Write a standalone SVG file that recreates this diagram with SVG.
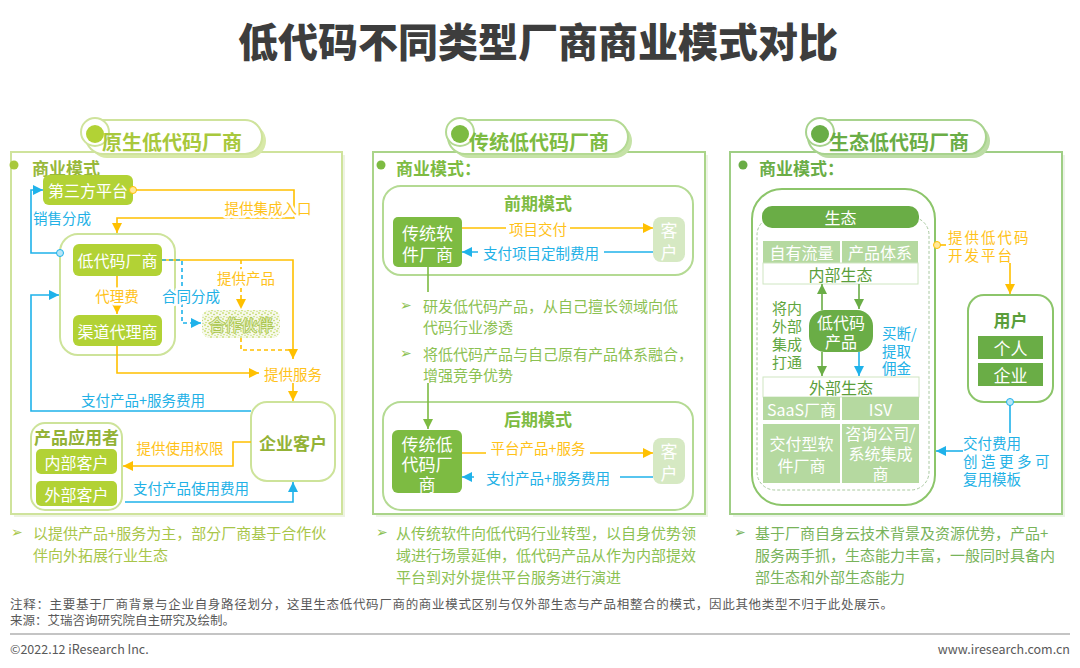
<svg xmlns="http://www.w3.org/2000/svg" width="1080" height="668" viewBox="0 0 1080 668">
<style>
text{font-family:"Noto Sans CJK SC","Noto Sans",sans-serif;dominant-baseline:central}
.title{font-size:40px;font-weight:900;fill:#3d3d3d}
.tab{font-size:20px;font-weight:bold}
.hd{font-size:17px;font-weight:bold}
.nt{font-size:16px;fill:#fff}
.lb{font-size:14.5px}
.y{fill:#ffc21a}
.b{fill:#23b1e6}
.bul{font-size:15px}
.ln{fill:none;stroke-width:1.6}
.ly{stroke:#ffc000}
.lbl{stroke:#1fb2ea}
.lg{stroke:#6aad46}
.halo{stroke:#fff;stroke-width:5;paint-order:stroke;stroke-linejoin:round}
.arr{font-family:"DejaVu Sans",sans-serif;font-size:14px}
.note{font-size:12.5px;fill:#595959}
</style>
<defs>
<marker id="my" viewBox="0 0 10 10" refX="10" refY="5" markerWidth="10" markerHeight="10" markerUnits="userSpaceOnUse" orient="auto"><path d="M0,0 L10,5 L0,10 z" fill="#ffc000"/></marker>
<marker id="mb" viewBox="0 0 10 10" refX="10" refY="5" markerWidth="10" markerHeight="10" markerUnits="userSpaceOnUse" orient="auto"><path d="M0,0 L10,5 L0,10 z" fill="#1fb2ea"/></marker>
<marker id="mg" viewBox="0 0 10 10" refX="10" refY="5" markerWidth="10" markerHeight="10" markerUnits="userSpaceOnUse" orient="auto"><path d="M0,0 L10,5 L0,10 z" fill="#6aad46"/></marker>
<marker id="mg2" viewBox="0 0 10 10" refX="10" refY="5" markerWidth="10" markerHeight="10" markerUnits="userSpaceOnUse" orient="auto"><path d="M0,0 L10,5 L0,10 z" fill="#7dbb42"/></marker>
<pattern id="dots" width="6" height="6" patternUnits="userSpaceOnUse">
<rect width="6" height="6" fill="#f6f9ea"/>
<circle cx="1" cy="1" r="0.8" fill="#b5d334"/>
<circle cx="4" cy="2.5" r="0.7" fill="#a9c83a"/>
<circle cx="2" cy="4.6" r="0.7" fill="#b5d334"/>
<circle cx="5" cy="5.2" r="0.5" fill="#9fbf35"/>
</pattern>
</defs>
<rect width="1080" height="668" fill="#fff"/>
<text class="title" x="538" y="40" text-anchor="middle">低代码不同类型厂商商业模式对比</text>

<!-- panels -->
<g id="panel-left">
<rect x="14" y="155" width="331" height="362" fill="#eef3e2"/>
<rect x="11" y="152" width="331" height="362" fill="#fff" stroke="#cfe39c" stroke-width="2"/>
<rect x="90" y="124" width="176" height="34" rx="17" fill="#d8e9a8"/>
<rect x="86" y="120" width="176" height="34" rx="17" fill="#fff" stroke="#cfe39c" stroke-width="2"/>
<circle cx="95" cy="132" r="14" fill="#fff" stroke="#cfe39c" stroke-width="2"/>
<circle cx="95" cy="134" r="9" fill="#b2d235"/>
<text class="tab" x="172" y="141" text-anchor="middle" fill="#a8c83c">原生低代码厂商</text>
<circle cx="14" cy="165" r="4.5" fill="#a8c83c"/>
<text class="hd" x="32" y="167" fill="#98b83a">商业模式</text>
</g>
<g id="panel-mid">
<rect x="376" y="155" width="332" height="362" fill="#edf4e6"/>
<rect x="373" y="152" width="332" height="362" fill="#fff" stroke="#aad489" stroke-width="2"/>
<rect x="452" y="124" width="180" height="34" rx="17" fill="#c5e2a6"/>
<rect x="448" y="120" width="180" height="34" rx="17" fill="#fff" stroke="#b4da93" stroke-width="2"/>
<circle cx="460" cy="132" r="14" fill="#fff" stroke="#b4da93" stroke-width="2"/>
<circle cx="460" cy="134" r="9" fill="#7dbb42"/>
<text class="tab" x="539" y="141" text-anchor="middle" fill="#7dbb42">传统低代码厂商</text>
<circle cx="381" cy="165" r="4.5" fill="#7dbb42"/>
<text class="hd" x="396" y="167" fill="#7dbb42">商业模式：</text>
</g>
<g id="panel-right">
<rect x="733" y="155" width="332" height="362" fill="#ecf3e8"/>
<rect x="730" y="152" width="332" height="362" fill="#fff" stroke="#9fce85" stroke-width="2"/>
<rect x="812" y="124" width="178" height="34" rx="17" fill="#bcdca5"/>
<rect x="808" y="120" width="178" height="34" rx="17" fill="#fff" stroke="#a8d38e" stroke-width="2"/>
<circle cx="820" cy="132" r="14" fill="#fff" stroke="#a8d38e" stroke-width="2"/>
<circle cx="820" cy="134" r="9" fill="#6aad46"/>
<text class="tab" x="899" y="141" text-anchor="middle" fill="#6aad46">生态低代码厂商</text>
<circle cx="743" cy="165" r="4.5" fill="#6aad46"/>
<text class="hd" x="759" y="167" fill="#6aad46">商业模式：</text>
</g>

<!-- left nodes -->
<g id="lowcode-group"><rect x="60" y="234" width="115" height="121" rx="18" fill="#fff" stroke="#cde39a" stroke-width="2"/></g>
<g id="third-party"><rect x="43" y="175" width="90" height="30" rx="6" fill="#b2d235"/><text class="nt" x="88" y="190" text-anchor="middle">第三方平台</text></g>
<g id="lowcode-vendor"><rect x="73" y="244" width="89" height="32" rx="6" fill="#b2d235"/><text class="nt" x="117.5" y="260" text-anchor="middle">低代码厂商</text></g>
<g id="channel-agent"><rect x="73" y="315" width="89" height="31" rx="6" fill="#b2d235"/><text class="nt" x="117.5" y="330.5" text-anchor="middle">渠道代理商</text></g>
<g id="partner"><rect x="202" y="310" width="78" height="28" rx="8" fill="url(#dots)"/><text x="241" y="324" text-anchor="middle" font-size="16" fill="#e4efc4" stroke="#a8c44a" stroke-width="1.6" paint-order="stroke" stroke-linejoin="round">合作伙伴</text></g>
<g id="enterprise"><rect x="251" y="402" width="84" height="79" rx="16" fill="#fff" stroke="#cde39a" stroke-width="2"/><text class="hd" x="293" y="442" text-anchor="middle" fill="#93b236">企业客户</text></g>
<g id="users-group"><rect x="31" y="423" width="91" height="87" rx="14" fill="#fff" stroke="#cde39a" stroke-width="2"/><text class="hd" x="76.5" y="436" text-anchor="middle" fill="#93b236">产品应用者</text></g>
<g id="internal-cust"><rect x="36" y="449" width="81" height="25" rx="5" fill="#b2d235"/><text class="nt" x="76.5" y="461.5" text-anchor="middle">内部客户</text></g>
<g id="external-cust"><rect x="36" y="481" width="81" height="25" rx="5" fill="#b2d235"/><text class="nt" x="76.5" y="493.5" text-anchor="middle">外部客户</text></g>

<!-- middle nodes -->
<g id="early-group"><rect x="383" y="186" width="310" height="89" rx="18" fill="#fff" stroke="#b4da93" stroke-width="2"/><text class="hd" x="538" y="202" text-anchor="middle" fill="#7dbb42">前期模式</text></g>
<g id="trad-soft"><rect x="393" y="217" width="69" height="50" rx="5" fill="#7dbb42"/><text text-anchor="middle" font-size="17" fill="#fff"><tspan x="427.5" y="232">传统软</tspan><tspan x="427.5" y="253">件厂商</tspan></text></g>
<g id="cust-early"><rect x="653" y="217" width="32" height="45" rx="8" fill="#d6e9c3"/><text text-anchor="middle" font-size="17" fill="#fff"><tspan x="669" y="229">客</tspan><tspan x="669" y="251">户</tspan></text></g>
<g id="late-group"><rect x="383" y="402" width="310" height="108" rx="18" fill="#fff" stroke="#b4da93" stroke-width="2"/><text class="hd" x="538" y="418" text-anchor="middle" fill="#7dbb42">后期模式</text></g>
<g id="trad-lowcode"><rect x="392" y="430" width="70" height="63" rx="6" fill="#7dbb42"/><text text-anchor="middle" font-size="17" fill="#fff"><tspan x="427" y="443">传统低</tspan><tspan x="427" y="463">代码厂</tspan><tspan x="427" y="483">商</tspan></text></g>
<g id="cust-late"><rect x="653" y="438" width="32" height="46" rx="8" fill="#d6e9c3"/><text text-anchor="middle" font-size="17" fill="#fff"><tspan x="669" y="450">客</tspan><tspan x="669" y="472">户</tspan></text></g>

<!-- right nodes -->
<g id="eco-group">
<rect x="752" y="189" width="183" height="316" rx="30" fill="#fff" stroke="#8cc56a" stroke-width="2"/>
<rect x="757" y="217" width="172" height="273" rx="18" fill="#fff" stroke="#a9c9a0" stroke-width="1" stroke-dasharray="3 2"/>
</g>
<g id="eco-header"><rect x="762" y="206" width="157" height="22" rx="10" fill="#6aad46"/><text class="nt" x="840.5" y="217" text-anchor="middle">生态</text></g>
<g id="own-traffic"><rect x="763" y="241" width="77" height="22" fill="#b5d9a0"/><text class="nt" x="801.5" y="252" text-anchor="middle">自有流量</text></g>
<g id="product-system"><rect x="842" y="241" width="76" height="22" fill="#b5d9a0"/><text class="nt" x="880" y="252" text-anchor="middle">产品体系</text></g>
<g id="internal-eco"><rect x="763" y="263" width="155" height="21" fill="#fff" stroke="#cfe6c2" stroke-width="1"/><text x="840.5" y="273.5" text-anchor="middle" font-size="16" fill="#5a9e3a">内部生态</text></g>
<g id="lowcode-product"><rect x="809" y="310" width="64" height="42" rx="16" fill="#6aad46"/><text class="nt" text-anchor="middle"><tspan x="841" y="322">低代码</tspan><tspan x="841" y="341">产品</tspan></text></g>
<g id="integrate-label"><text text-anchor="middle" font-size="15" fill="#5fa63e"><tspan x="787" y="307">将内</tspan><tspan x="787" y="325">外部</tspan><tspan x="787" y="343">集成</tspan><tspan x="787" y="361">打通</tspan></text></g>
<g id="external-eco"><rect x="763" y="377" width="156" height="20" fill="#fff" stroke="#cfe6c2" stroke-width="1"/><text x="841" y="387" text-anchor="middle" font-size="16" fill="#5a9e3a">外部生态</text></g>
<g id="saas"><rect x="763" y="397" width="77" height="23" fill="#b5d9a0"/><text class="nt" x="801.5" y="408.5" text-anchor="middle">SaaS厂商</text></g>
<g id="isv"><rect x="842" y="397" width="77" height="23" fill="#b5d9a0"/><text class="nt" x="880.5" y="408.5" text-anchor="middle">ISV</text></g>
<g id="delivery-soft"><rect x="763" y="424" width="77" height="59" fill="#b5d9a0"/><text class="nt" text-anchor="middle"><tspan x="801.5" y="443">交付型软</tspan><tspan x="801.5" y="465">件厂商</tspan></text></g>
<g id="consulting"><rect x="842" y="424" width="77" height="59" fill="#b5d9a0"/><text class="nt" text-anchor="middle"><tspan x="880.5" y="433">咨询公司/</tspan><tspan x="880.5" y="453">系统集成</tspan><tspan x="880.5" y="473">商</tspan></text></g>
<g id="users"><rect x="968" y="295" width="85" height="107" rx="16" fill="#fff" stroke="#8cc56a" stroke-width="2"/><text class="hd" x="1010.5" y="319" text-anchor="middle" fill="#5a9e3a">用户</text>
<rect x="978" y="336" width="65" height="23" fill="#6aad46"/><text x="1010.5" y="347.5" text-anchor="middle" font-size="17" fill="#fff">个人</text>
<rect x="978" y="363" width="65" height="23" fill="#6aad46"/><text x="1010.5" y="374.5" text-anchor="middle" font-size="17" fill="#fff">企业</text></g>

<!-- connectors -->
<g id="connectors">
<path class="ln ly" d="M133,190 H294 V218 H117 V233" marker-end="url(#my)"/>
<circle cx="133" cy="190" r="3.5" fill="#ffe89a" stroke="#ffc000" stroke-width="1"/>
<text class="lb y halo" x="268" y="207" text-anchor="middle">提供集成入口</text>
<path class="ln lbl" d="M60,253 H31 V190 H43" marker-end="url(#mb)"/>
<circle cx="60" cy="253" r="3.5" fill="#b9e6f7" stroke="#1fb2ea" stroke-width="1"/>
<text class="lb b" x="62" y="217" text-anchor="middle">销售分成</text>
<path class="ln ly" d="M117,276 V314" marker-end="url(#my)"/>
<text class="lb y halo" x="117" y="295" text-anchor="middle">代理费</text>
<path class="ln ly" d="M162,260 H293 V359" marker-end="url(#my)"/>
<path class="ln lbl" d="M162,260 H182 V323 H201" stroke-dasharray="4 3" marker-end="url(#mb)"/>
<text class="lb b halo" x="191" y="295" text-anchor="middle">合同分成</text>
<path class="ln ly" d="M241,260 V309" stroke-dasharray="4 3" marker-end="url(#my)"/>
<text class="lb y halo" x="246" y="277" text-anchor="middle">提供产品</text>
<path class="ln ly" d="M241,338 V350 H293" stroke-dasharray="4 3"/>
<path class="ln ly" d="M117,346 V373 H259" marker-end="url(#my)"/>
<text class="lb y" x="293" y="373" text-anchor="middle">提供服务</text>
<path class="ln ly" d="M293,383 V401" marker-end="url(#my)"/>
<path class="ln lbl" d="M251,411 H31 V295 H59" marker-end="url(#mb)"/>
<text class="lb b" x="143" y="399" text-anchor="middle">支付产品+服务费用</text>
<path class="ln ly" d="M251,442 H233 V466 H123" marker-end="url(#my)"/>
<text class="lb y" x="180" y="447" text-anchor="middle">提供使用权限</text>
<path class="ln lbl" d="M125,502 H293 V482" marker-end="url(#mb)"/>
<text class="lb b" x="191" y="487" text-anchor="middle">支付产品使用费用</text>

<path class="ln ly" d="M462,228 H653" marker-end="url(#my)"/>
<rect x="506" y="218" width="64" height="20" fill="#fff"/>
<text class="lb y" x="538" y="228" text-anchor="middle" font-size="15">项目交付</text>
<path class="ln lbl" d="M653,252 H462" marker-end="url(#mb)"/>
<rect x="478" y="242" width="126" height="20" fill="#fff"/>
<text class="lb b" x="541" y="252" text-anchor="middle" font-size="15">支付项目定制费用</text>
<path d="M428,267 V292 M428,383 V429" class="ln" stroke="#7dbb42" marker-end="url(#mg2)"/>
<path class="ln ly" d="M462,453 H653" marker-end="url(#my)"/>
<rect x="486" y="437" width="104" height="20" fill="#fff"/>
<text class="lb y" x="538" y="447" text-anchor="middle" font-size="15">平台产品+服务</text>
<path class="ln lbl" d="M653,477 H462" marker-end="url(#mb)"/>
<rect x="474" y="467" width="146" height="20" fill="#fff"/>
<text class="lb b" x="548" y="477" text-anchor="middle" font-size="15">支付产品+服务费用</text>

<path class="ln lg" d="M822,310 V284" marker-end="url(#mg)"/>
<path class="ln lg" d="M859,284 V309" marker-end="url(#mg)"/>
<path class="ln lg" d="M822,352 V376" marker-end="url(#mg)"/>
<path class="ln lbl" d="M859,352 V376" marker-end="url(#mb)"/>
<text class="lb b" font-size="15"><tspan x="882" y="332">买断/</tspan><tspan x="882" y="350">提取</tspan><tspan x="882" y="367">佣金</tspan></text>
<path class="ln ly" d="M937,245 H946"/>
<circle cx="937" cy="245" r="3.5" fill="#ffe89a" stroke="#ffc000" stroke-width="1"/>
<text class="lb y" font-size="15" letter-spacing="2"><tspan x="948" y="236">提供低代码</tspan><tspan x="948" y="254">开发平台</tspan></text>
<path class="ln ly" d="M1010,263 V294" marker-end="url(#my)"/>
<path class="ln lbl" d="M1010,402 V433"/>
<circle cx="1010" cy="402" r="3.5" fill="#b9e6f7" stroke="#1fb2ea" stroke-width="1"/>
<path class="ln lbl" d="M963,451 H936" marker-end="url(#mb)"/>
<text class="lb b" font-size="15"><tspan x="963" y="442">交付费用</tspan><tspan x="963" y="460" letter-spacing="3.5">创造更多可</tspan><tspan x="963" y="478" letter-spacing="0">复用模板</tspan></text>
</g>

<!-- bullets -->
<g id="bullets-left" fill="#a9c64a">
<text class="arr" x="11" y="532">➢</text>
<text class="bul"><tspan x="33" y="532">以提供产品+服务为主，部分厂商基于合作伙</tspan><tspan x="33" y="554">伴向外拓展行业生态</tspan></text>
</g>
<g id="bullets-mid" fill="#8cc152">
<text class="arr" x="400" y="305">➢</text>
<text class="bul"><tspan x="423" y="305">研发低代码产品，从自己擅长领域向低</tspan><tspan x="423" y="326">代码行业渗透</tspan></text>
<text class="arr" x="400" y="353">➢</text>
<text class="bul"><tspan x="423" y="353">将低代码产品与自己原有产品体系融合，</tspan><tspan x="423" y="374">增强竞争优势</tspan></text>
<text class="arr" x="376" y="532">➢</text>
<text class="bul"><tspan x="396" y="532">从传统软件向低代码行业转型，以自身优势领</tspan><tspan x="396" y="554">域进行场景延伸，低代码产品从作为内部提效</tspan><tspan x="396" y="576">平台到对外提供平台服务进行演进</tspan></text>
</g>
<g id="bullets-right" fill="#78b35a">
<text class="arr" x="734" y="532">➢</text>
<text class="bul"><tspan x="755" y="532">基于厂商自身云技术背景及资源优势，产品+</tspan><tspan x="755" y="554">服务两手抓，生态能力丰富，一般同时具备内</tspan><tspan x="755" y="576">部生态和外部生态能力</tspan></text>
</g>

<g id="footer">
<text class="note" x="10" y="603" textLength="883">注释：主要基于厂商背景与企业自身路径划分，这里生态低代码厂商的商业模式区别与仅外部生态与产品相整合的模式，因此其他类型不归于此处展示。</text>
<text class="note" x="10" y="619">来源：艾瑞咨询研究院自主研究及绘制。</text>
<line x1="10" y1="634" x2="1070" y2="634" stroke="#c4c4c4" stroke-width="2"/>
<text class="note" x="10" y="648">©2022.12 iResearch Inc.</text>
<text class="note" x="1070" y="648" text-anchor="end">www.iresearch.com.cn</text>
</g>
</svg>
